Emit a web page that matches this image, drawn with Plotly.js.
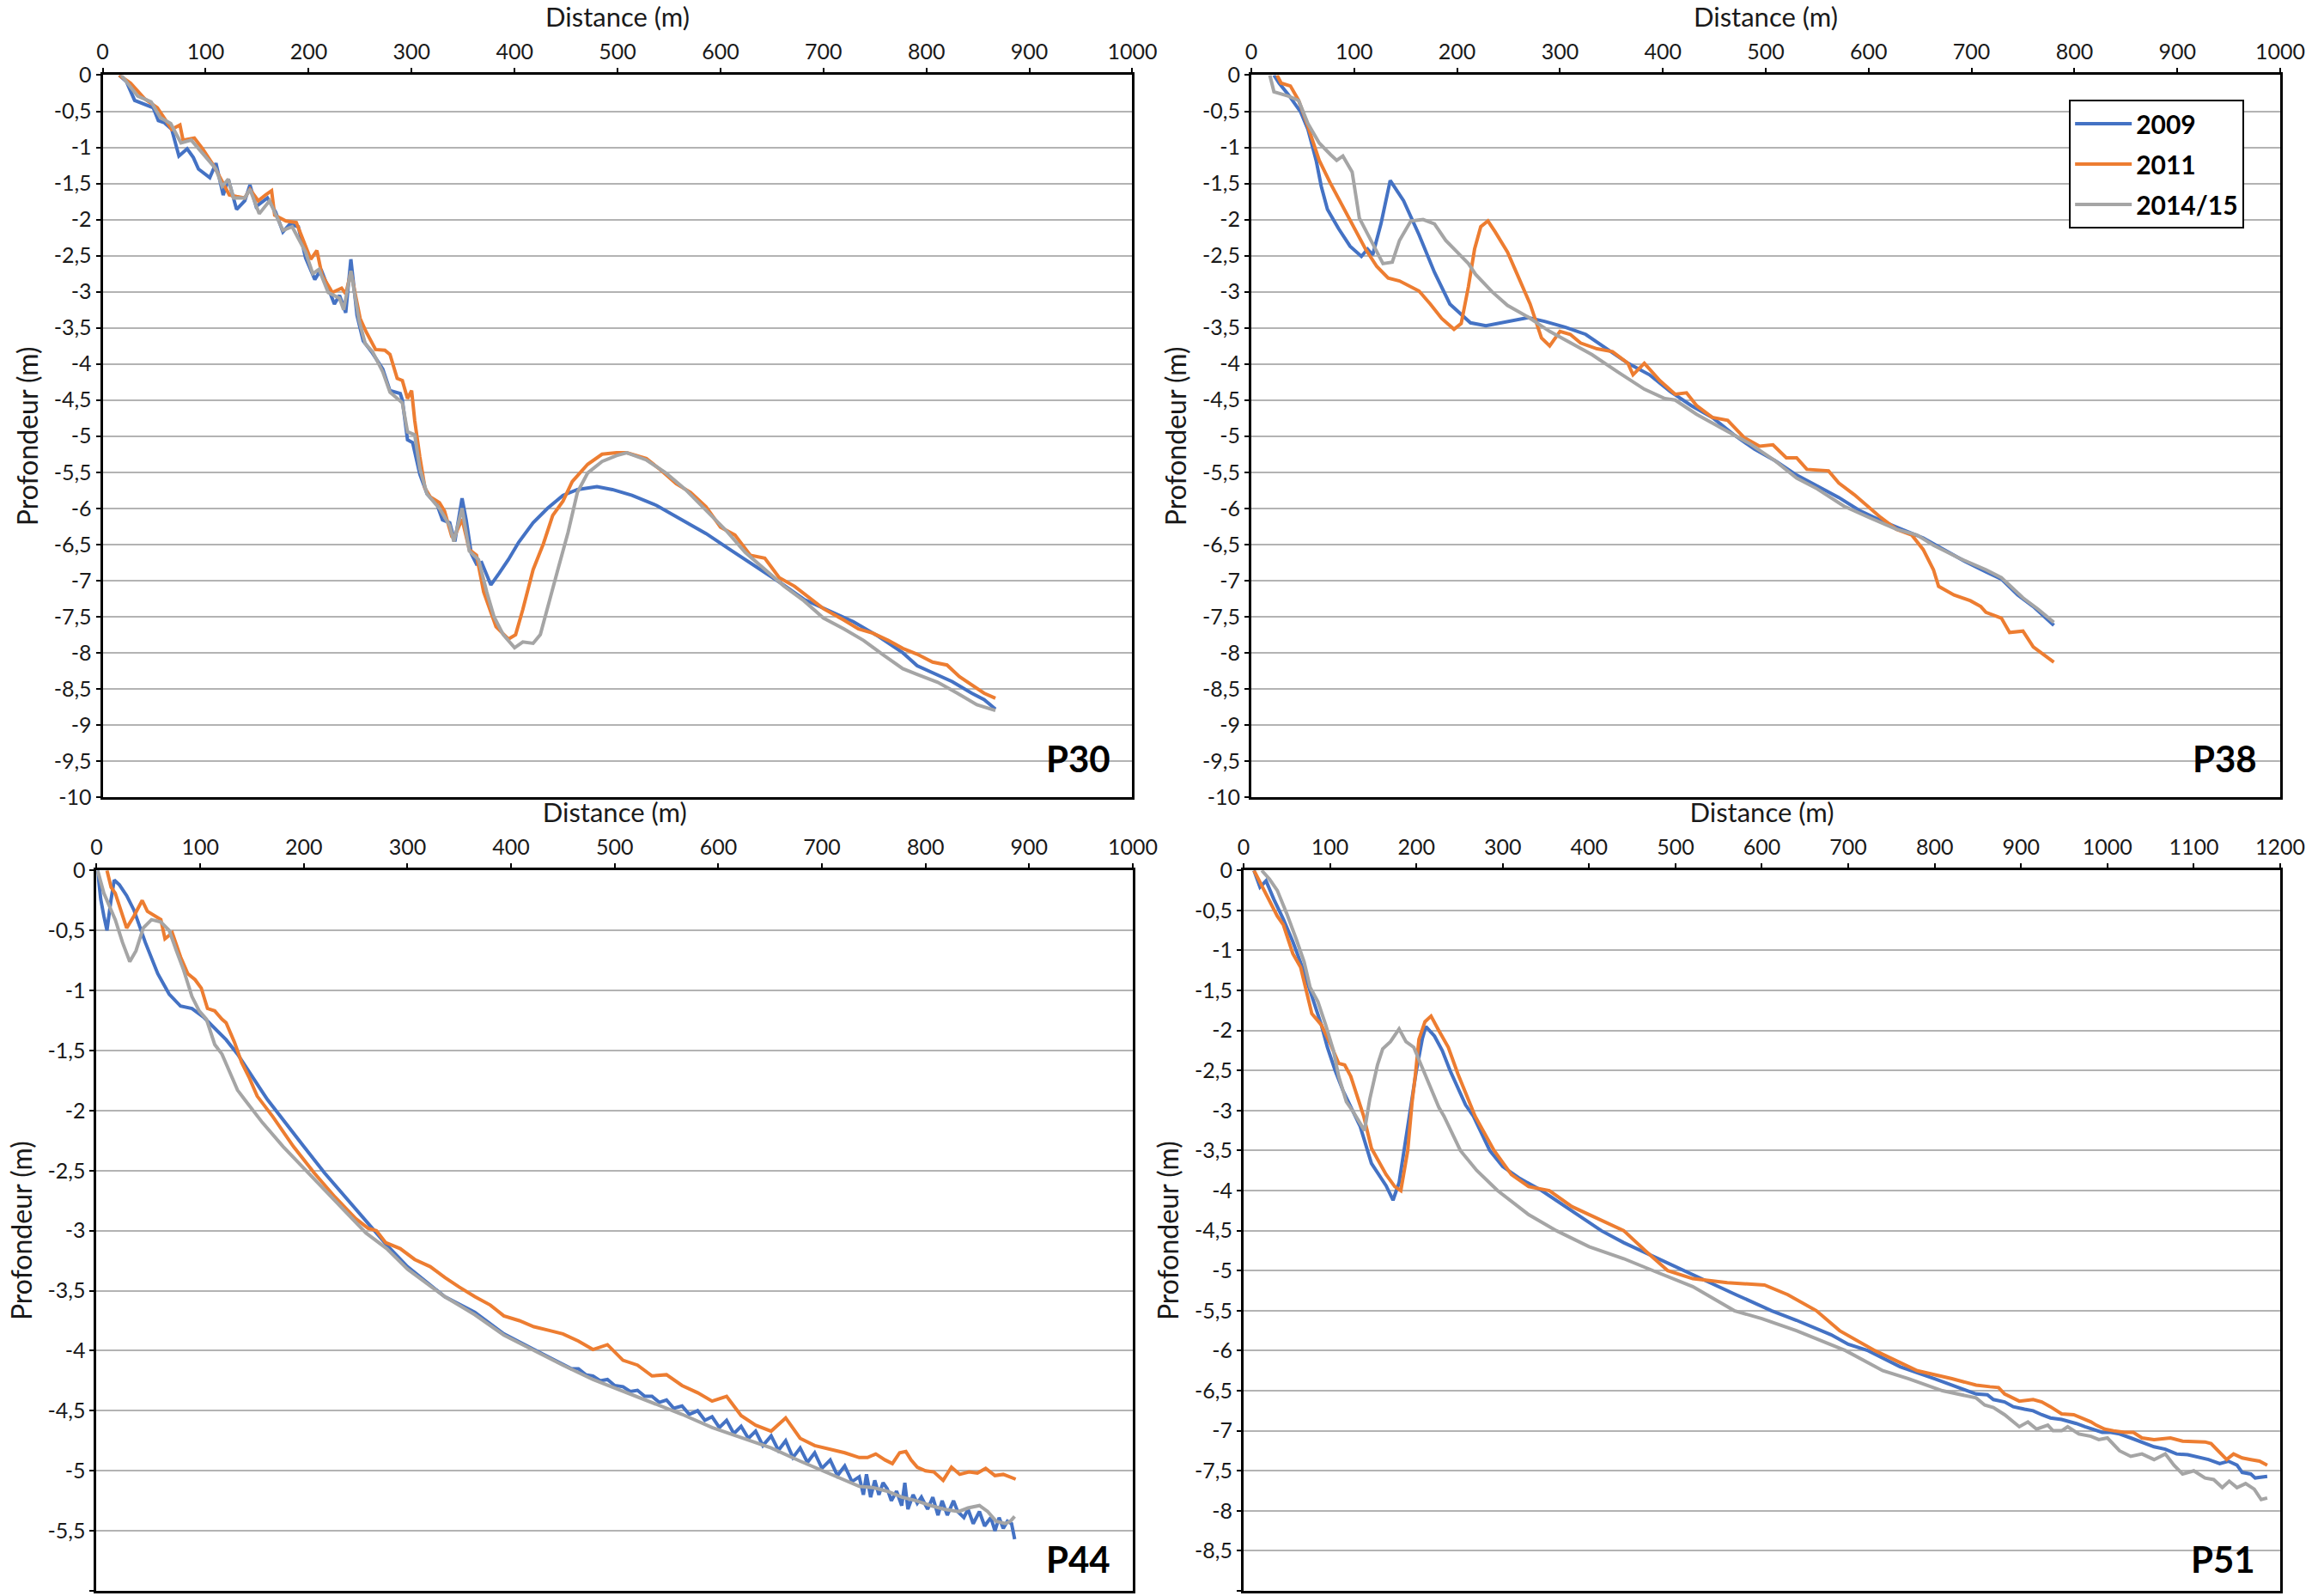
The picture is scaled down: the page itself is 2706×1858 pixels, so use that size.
<!DOCTYPE html>
<html><head><meta charset="utf-8">
<script src="https://cdn.plot.ly/plotly-3.0.1.min.js"></script>
<style>html,body{margin:0;padding:0;background:#fff;}#chart{width:2706px;height:1858px;}</style>
</head><body><div id="chart"></div>
<script>
// ---- series ----
const seriesNames = ['2009', '2011', '2014/15'];
const seriesColors = ['#4472C4', '#ED7D31', '#A5A5A5'];
const panelLabels = ['P30', 'P38', 'P44', 'P51'];

// P30
const p30_x09 = [16,23,31,40,49,54,60,67,74,82,88,93,100,104,110,117,122,130,138,143,149,160,168,175,182,190,197,206,212,219,225,230,236,241,247,253,262,272,279,289,291,296,301,308,315,325,330,337,342,349,353,358,363,368,377,385,394,404,418,432,447,461,480,495,514,538,562,586,609,633,657,681,705,729,753,777,791,806,825,844,856,867];
const p30_y09 = [0,-0.09,-0.35,-0.40,-0.45,-0.63,-0.66,-0.75,-1.12,-1.02,-1.14,-1.30,-1.38,-1.42,-1.22,-1.66,-1.44,-1.86,-1.74,-1.52,-1.82,-1.70,-1.90,-2.17,-2.06,-2.10,-2.53,-2.83,-2.69,-2.95,-3.17,-3.05,-3.29,-2.55,-3.33,-3.68,-3.85,-4.07,-4.37,-4.41,-4.50,-5.05,-5.09,-5.53,-5.80,-5.96,-6.16,-6.20,-6.46,-5.86,-6.16,-6.63,-6.77,-6.75,-7.06,-6.90,-6.71,-6.47,-6.20,-6.00,-5.82,-5.74,-5.70,-5.74,-5.82,-5.96,-6.16,-6.35,-6.57,-6.79,-7.02,-7.26,-7.42,-7.57,-7.77,-8.00,-8.18,-8.28,-8.40,-8.56,-8.65,-8.78];
const p30_x11 = [16,27,41,53,60,67,75,78,89,97,108,115,123,130,138,143,151,158,164,167,178,188,197,202,208,213,223,232,236,241,250,256,265,274,279,286,291,296,300,303,308,313,318,327,332,339,341,349,356,363,370,382,394,401,408,418,428,437,447,456,471,485,499,509,528,542,557,571,586,600,614,629,643,657,672,686,700,720,734,748,763,777,791,806,820,832,844,856,867];
const p30_y11 = [0,-0.11,-0.33,-0.45,-0.60,-0.75,-0.69,-0.90,-0.87,-1.02,-1.26,-1.45,-1.66,-1.68,-1.70,-1.58,-1.74,-1.66,-1.60,-1.94,-2.02,-2.04,-2.37,-2.55,-2.43,-2.77,-3.01,-2.95,-3.03,-2.73,-3.37,-3.56,-3.80,-3.81,-3.87,-4.20,-4.23,-4.48,-4.37,-4.78,-5.29,-5.72,-5.84,-5.92,-6.04,-6.39,-6.41,-6.15,-6.57,-6.65,-7.16,-7.64,-7.81,-7.75,-7.40,-6.85,-6.49,-6.10,-5.90,-5.63,-5.39,-5.25,-5.23,-5.23,-5.31,-5.47,-5.66,-5.78,-5.98,-6.26,-6.37,-6.65,-6.69,-6.96,-7.08,-7.24,-7.39,-7.55,-7.67,-7.73,-7.83,-7.94,-8.02,-8.13,-8.17,-8.33,-8.44,-8.56,-8.63];
const p30_x14 = [18,34,47,56,66,76,86,93,110,116,122,127,138,143,152,162,175,184,197,204,210,219,230,234,241,249,255,262,272,279,291,296,303,308,315,327,337,341,349,356,365,373,380,389,400,408,418,425,432,442,452,461,471,485,499,509,528,547,566,586,605,624,643,662,681,700,720,739,758,777,791,811,830,849,867];
const p30_y14 = [0,-0.29,-0.37,-0.59,-0.67,-0.94,-0.90,-1.02,-1.30,-1.54,-1.44,-1.70,-1.70,-1.58,-1.92,-1.74,-2.15,-2.10,-2.45,-2.75,-2.69,-3.01,-3.09,-3.25,-2.71,-3.40,-3.72,-3.83,-4.11,-4.39,-4.54,-4.94,-4.98,-5.45,-5.80,-6.00,-6.24,-6.46,-6.00,-6.59,-6.71,-7.16,-7.50,-7.75,-7.93,-7.85,-7.87,-7.75,-7.36,-6.85,-6.33,-5.78,-5.51,-5.35,-5.27,-5.23,-5.33,-5.51,-5.74,-6.02,-6.30,-6.61,-6.85,-7.08,-7.28,-7.52,-7.67,-7.83,-8.03,-8.22,-8.30,-8.41,-8.56,-8.72,-8.80];

// P38
const p38_x09 = [22,27,36,48,55,63,68,74,85,96,107,113,118,126,135,148,163,178,193,203,213,228,249,269,285,305,325,346,366,387,407,428,448,469,489,509,530,550,571,591,612,632,653,673,693,714,729,745,760,780];
const p38_y09 = [0,-0.11,-0.27,-0.51,-0.75,-1.18,-1.54,-1.86,-2.13,-2.37,-2.51,-2.41,-2.49,-2.06,-1.46,-1.74,-2.21,-2.73,-3.17,-3.30,-3.43,-3.47,-3.41,-3.36,-3.41,-3.49,-3.59,-3.79,-3.99,-4.15,-4.38,-4.58,-4.74,-4.98,-5.18,-5.34,-5.54,-5.69,-5.85,-6.03,-6.17,-6.29,-6.41,-6.57,-6.73,-6.88,-6.98,-7.20,-7.36,-7.62];
const p38_x11 = [25,29,38,46,55,66,77,89,100,111,122,133,144,163,174,185,197,204,211,217,223,230,237,249,260,271,282,290,300,310,320,336,351,366,371,382,397,412,423,433,448,463,479,494,507,520,530,540,561,571,586,599,612,627,642,653,663,668,683,699,709,714,729,737,750,760,768,780];
const p38_y11 = [0,-0.11,-0.15,-0.35,-0.71,-1.18,-1.50,-1.82,-2.10,-2.41,-2.65,-2.81,-2.85,-2.99,-3.17,-3.37,-3.52,-3.44,-2.93,-2.41,-2.10,-2.02,-2.17,-2.45,-2.81,-3.17,-3.64,-3.75,-3.55,-3.59,-3.71,-3.79,-3.83,-3.99,-4.15,-3.99,-4.23,-4.42,-4.40,-4.58,-4.74,-4.78,-5.02,-5.14,-5.12,-5.30,-5.30,-5.46,-5.48,-5.65,-5.81,-5.97,-6.13,-6.29,-6.37,-6.57,-6.85,-7.08,-7.20,-7.28,-7.36,-7.44,-7.52,-7.72,-7.70,-7.92,-8.00,-8.13];
const p38_x14 = [18,22,36,46,55,66,77,83,89,98,105,115,122,128,137,144,155,167,178,189,200,211,218,234,249,269,290,310,331,356,382,402,412,433,458,484,509,530,550,576,601,627,647,663,688,714,729,750,765,780];
const p38_y14 = [0,-0.23,-0.29,-0.35,-0.67,-0.94,-1.10,-1.18,-1.12,-1.34,-1.98,-2.25,-2.45,-2.61,-2.59,-2.29,-2.02,-2.00,-2.06,-2.29,-2.45,-2.61,-2.76,-3.00,-3.19,-3.35,-3.55,-3.71,-3.87,-4.11,-4.35,-4.48,-4.50,-4.70,-4.90,-5.10,-5.34,-5.58,-5.73,-5.97,-6.13,-6.29,-6.37,-6.51,-6.69,-6.85,-6.96,-7.24,-7.40,-7.58];

// P44
const p44_x09 = [1,4,7,10,14,17,22,29,36,47,59,70,81,92,103,114,125,136,147,158,165,180,200,220,240,260,280,300,336,365,393,422,450,458,465,472,479,486,493,500,508,515,522,529,536,543,550,557,565,572,580,587,594,601,608,615,622,629,636,643,651,658,665,672,679,686,693,700,708,715,722,729,736,740,743,747,751,755,759,763,767,772,777,780,783,788,792,796,802,807,812,816,821,827,831,837,841,846,852,857,863,867,871,875,879,883,886];
const p44_y09 = [0,-0.24,-0.38,-0.50,-0.24,-0.08,-0.12,-0.21,-0.33,-0.60,-0.86,-1.03,-1.13,-1.15,-1.22,-1.32,-1.41,-1.53,-1.68,-1.82,-1.91,-2.08,-2.30,-2.52,-2.72,-2.92,-3.12,-3.30,-3.55,-3.68,-3.86,-3.99,-4.11,-4.15,-4.15,-4.20,-4.21,-4.25,-4.24,-4.29,-4.30,-4.34,-4.33,-4.38,-4.38,-4.43,-4.41,-4.48,-4.46,-4.53,-4.50,-4.58,-4.55,-4.64,-4.58,-4.69,-4.63,-4.73,-4.67,-4.79,-4.71,-4.83,-4.75,-4.89,-4.81,-4.93,-4.85,-4.98,-4.91,-5.04,-4.96,-5.09,-5.05,-5.20,-5.03,-5.22,-5.08,-5.20,-5.10,-5.15,-5.25,-5.17,-5.29,-5.10,-5.32,-5.20,-5.27,-5.22,-5.32,-5.22,-5.37,-5.25,-5.37,-5.25,-5.34,-5.39,-5.32,-5.44,-5.34,-5.46,-5.39,-5.50,-5.39,-5.48,-5.42,-5.44,-5.57];
const p44_x11 = [10,14,18,22,29,36,44,49,55,62,66,73,81,88,95,101,107,114,121,125,133,140,147,155,170,190,210,230,250,262,270,279,293,307,322,336,350,365,380,393,408,422,436,450,465,479,493,508,522,536,550,565,580,594,608,622,636,651,665,679,693,708,722,736,744,752,761,768,775,781,786,792,800,808,817,825,833,842,850,858,867,875,883,887];
const p44_y11 = [0,-0.14,-0.19,-0.29,-0.48,-0.38,-0.25,-0.34,-0.37,-0.41,-0.57,-0.52,-0.72,-0.86,-0.91,-0.98,-1.15,-1.17,-1.24,-1.27,-1.43,-1.60,-1.72,-1.88,-2.05,-2.30,-2.52,-2.72,-2.90,-2.98,-3.00,-3.10,-3.15,-3.24,-3.30,-3.39,-3.47,-3.55,-3.62,-3.71,-3.75,-3.80,-3.83,-3.86,-3.92,-3.99,-3.95,-4.08,-4.12,-4.21,-4.20,-4.29,-4.35,-4.42,-4.38,-4.54,-4.62,-4.67,-4.56,-4.73,-4.79,-4.82,-4.85,-4.89,-4.89,-4.86,-4.91,-4.94,-4.85,-4.84,-4.91,-4.97,-5.00,-5.01,-5.08,-4.97,-5.03,-5.01,-5.02,-4.98,-5.04,-5.03,-5.06,-5.07];
const p44_x14 = [1,7,18,25,32,38,45,53,62,70,77,84,92,99,106,114,121,129,136,143,160,180,200,220,240,260,280,300,336,365,393,422,450,479,508,536,565,594,622,651,679,708,736,749,763,777,791,805,818,832,841,852,860,868,877,882,886];
const p44_y14 = [0,-0.19,-0.41,-0.60,-0.76,-0.67,-0.48,-0.41,-0.43,-0.50,-0.67,-0.83,-1.05,-1.17,-1.24,-1.45,-1.53,-1.69,-1.83,-1.91,-2.10,-2.30,-2.48,-2.66,-2.85,-3.02,-3.15,-3.32,-3.55,-3.70,-3.87,-4.00,-4.12,-4.24,-4.34,-4.43,-4.53,-4.64,-4.72,-4.81,-4.92,-5.03,-5.13,-5.14,-5.17,-5.22,-5.25,-5.29,-5.32,-5.34,-5.31,-5.29,-5.34,-5.42,-5.44,-5.42,-5.38];

// P51
const p51_x09 = [12,19,26,35,46,57,68,79,90,97,106,115,124,135,148,165,173,180,190,200,207,211,221,230,239,248,257,266,285,300,320,345,380,414,440,470,490,508,540,570,611,640,680,700,723,760,800,848,861,868,881,891,904,914,924,934,947,954,964,974,984,994,1004,1014,1027,1040,1054,1067,1080,1093,1107,1117,1130,1140,1150,1156,1166,1171,1185];
const p51_y09 = [0,-0.21,-0.13,-0.36,-0.61,-0.89,-1.21,-1.57,-1.93,-2.21,-2.50,-2.75,-2.96,-3.20,-3.66,-3.94,-4.12,-3.90,-3.20,-2.50,-2.10,-1.95,-2.07,-2.25,-2.50,-2.71,-2.93,-3.07,-3.50,-3.70,-3.85,-4.00,-4.25,-4.50,-4.65,-4.80,-4.90,-5.00,-5.15,-5.30,-5.50,-5.62,-5.80,-5.92,-6.00,-6.20,-6.35,-6.54,-6.55,-6.61,-6.64,-6.70,-6.73,-6.75,-6.80,-6.84,-6.86,-6.88,-6.91,-6.95,-6.98,-7.02,-7.02,-7.04,-7.09,-7.14,-7.20,-7.23,-7.29,-7.30,-7.34,-7.36,-7.41,-7.38,-7.43,-7.52,-7.54,-7.59,-7.57];
const p51_x11 = [12,26,39,46,57,66,72,79,90,101,110,117,124,132,139,148,165,175,182,190,195,199,203,210,217,226,237,248,257,268,290,310,330,354,380,400,440,465,491,520,560,603,630,663,690,731,780,820,848,864,874,881,898,914,924,934,947,961,971,981,987,997,1007,1020,1030,1040,1054,1073,1087,1100,1113,1120,1130,1138,1146,1156,1166,1176,1185];
const p51_y11 = [0,-0.29,-0.57,-0.68,-1.04,-1.21,-1.50,-1.79,-1.93,-2.18,-2.41,-2.43,-2.57,-2.82,-3.07,-3.47,-3.80,-3.95,-4.00,-3.50,-2.90,-2.54,-2.11,-1.89,-1.82,-2.00,-2.21,-2.54,-2.79,-3.07,-3.50,-3.80,-3.95,-4.00,-4.20,-4.30,-4.50,-4.75,-5.00,-5.10,-5.15,-5.18,-5.30,-5.50,-5.75,-6.00,-6.25,-6.35,-6.43,-6.45,-6.46,-6.54,-6.63,-6.61,-6.64,-6.70,-6.79,-6.80,-6.84,-6.89,-6.93,-6.98,-7.00,-7.02,-7.02,-7.09,-7.11,-7.09,-7.13,-7.14,-7.14,-7.16,-7.27,-7.36,-7.29,-7.34,-7.36,-7.38,-7.43];
const p51_x14 = [21,30,39,50,61,70,77,86,95,104,110,119,126,132,140,146,155,161,170,180,188,197,208,217,226,232,251,270,294,330,362,400,440,474,520,568,600,640,697,740,770,809,848,858,868,881,898,908,918,931,937,947,954,967,981,990,1000,1014,1027,1040,1054,1067,1077,1087,1100,1113,1123,1133,1141,1150,1160,1170,1178,1185];
const p51_y14 = [0,-0.11,-0.25,-0.54,-0.86,-1.14,-1.46,-1.64,-1.93,-2.25,-2.57,-2.89,-3.00,-3.10,-3.25,-2.86,-2.43,-2.23,-2.14,-1.98,-2.14,-2.21,-2.50,-2.71,-2.96,-3.07,-3.50,-3.75,-4.00,-4.30,-4.50,-4.70,-4.85,-5.00,-5.20,-5.50,-5.60,-5.75,-6.00,-6.25,-6.35,-6.50,-6.59,-6.68,-6.71,-6.80,-6.95,-6.89,-6.98,-6.93,-7.00,-7.00,-6.95,-7.04,-7.07,-7.11,-7.09,-7.25,-7.32,-7.29,-7.36,-7.29,-7.43,-7.54,-7.50,-7.59,-7.61,-7.71,-7.63,-7.71,-7.66,-7.73,-7.86,-7.84];

// ---- tick labels ----
const yTickVals10 = [0,-0.5,-1,-1.5,-2,-2.5,-3,-3.5,-4,-4.5,-5,-5.5,-6,-6.5,-7,-7.5,-8,-8.5,-9,-9.5,-10];
const yTickText10 = ['0','-0,5','-1','-1,5','-2','-2,5','-3','-3,5','-4','-4,5','-5','-5,5','-6','-6,5','-7','-7,5','-8','-8,5','-9','-9,5','-10'];
const yTickVals6 = [0,-0.5,-1,-1.5,-2,-2.5,-3,-3.5,-4,-4.5,-5,-5.5,-6];
const yTickText6 = ['0','-0,5','-1','-1,5','-2','-2,5','-3','-3,5','-4','-4,5','-5','-5,5','-6'];
const yTickVals9 = [0,-0.5,-1,-1.5,-2,-2.5,-3,-3.5,-4,-4.5,-5,-5.5,-6,-6.5,-7,-7.5,-8,-8.5,-9];
const yTickText9 = ['0','-0,5','-1','-1,5','-2','-2,5','-3','-3,5','-4','-4,5','-5','-5,5','-6','-6,5','-7','-7,5','-8','-8,5','-9'];
const xTitle = 'Distance (m)';
const yTitle = 'Profondeur (m)';

// ---- build ----
const FONT = 'Lato, "Open Sans", sans-serif';
const panels = [
  {xs:[p30_x09,p30_x11,p30_x14], ys:[p30_y09,p30_y11,p30_y14], xa:'x', ya:'y'},
  {xs:[p38_x09,p38_x11,p38_x14], ys:[p38_y09,p38_y11,p38_y14], xa:'x2', ya:'y2'},
  {xs:[p44_x09,p44_x11,p44_x14], ys:[p44_y09,p44_y11,p44_y14], xa:'x3', ya:'y3'},
  {xs:[p51_x09,p51_x11,p51_x14], ys:[p51_y09,p51_y11,p51_y14], xa:'x4', ya:'y4'}
];
const traces = [];
panels.forEach((p, pi) => {
  for (let s = 0; s < 3; s++) {
    traces.push({
      type:'scatter', mode:'lines', x:p.xs[s], y:p.ys[s], xaxis:p.xa, yaxis:p.ya,
      name:seriesNames[s], legendgroup:'g'+s, showlegend: pi === 1,
      line:{color:seriesColors[s], width:4}, hoverinfo:'skip'
    });
  }
});

function xAxis(dom, anchor, maxv) {
  return {
    domain:dom, anchor:anchor, side:'top', range:[0,maxv], dtick:100, tick0:0,
    showline:true, linecolor:'#000', linewidth:3, mirror:true,
    ticks:'outside', ticklen:5, tickwidth:2, tickcolor:'#000',
    showgrid:false, zeroline:false, automargin:false,
    tickfont:{family:FONT, size:25, color:'#1a1a1a'},
    title:{text:xTitle, font:{family:FONT, size:31, color:'#1a1a1a'}, standoff:4}
  };
}
function yAxis(dom, anchor, minv, vals, txt) {
  return {
    domain:dom, anchor:anchor, range:[minv,0], tickmode:'array', tickvals:vals, ticktext:txt,
    showline:true, linecolor:'#000', linewidth:3, mirror:true,
    ticks:'outside', ticklen:5, tickwidth:2, tickcolor:'#000',
    showgrid:true, gridcolor:'#b3b3b3', gridwidth:2, zeroline:false, automargin:false,
    tickfont:{family:FONT, size:25, color:'#1a1a1a'},
    title:{text:yTitle, font:{family:FONT, size:32, color:'#1a1a1a'}, standoff:9}
  };
}
const topY = [0.50054, 0.95291], botY = [0.00323, 0.45463];
const layout = {
  width:2706, height:1858, margin:{l:0,r:0,t:0,b:0},
  paper_bgcolor:'#fff', plot_bgcolor:'#fff',
  xaxis: xAxis([0.04420,0.48725],'y',1000),
  yaxis: yAxis(topY,'x',-10,yTickVals10,yTickText10),
  xaxis2: xAxis([0.53843,0.98115],'y2',1000),
  yaxis2: yAxis(topY,'x2',-10,yTickVals10,yTickText10),
  xaxis3: xAxis([0.04157,0.48743],'y3',1000),
  yaxis3: yAxis(botY,'x3',-6,yTickVals6,yTickText6),
  xaxis4: xAxis([0.53511,0.98115],'y4',1200),
  yaxis4: yAxis(botY,'x4',-9,yTickVals9,yTickText9),
  showlegend:true,
  legend:{x:0.8903, y:0.93757, xanchor:'left', yanchor:'top', bgcolor:'#fff',
    bordercolor:'#000', borderwidth:2, itemwidth:66, traceorder:'grouped', tracegroupgap:5,
    font:{family:FONT, size:30, color:'#000', weight:700}},
  annotations: [
    {text:panelLabels[0], xref:'x domain', yref:'y domain', x:0.98, y:0.0535, xanchor:'right', yanchor:'middle', showarrow:false, font:{family:FONT, size:42, color:'#000', weight:700}},
    {text:panelLabels[1], xref:'x2 domain', yref:'y2 domain', x:0.979, y:0.0535, xanchor:'right', yanchor:'middle', showarrow:false, font:{family:FONT, size:42, color:'#000', weight:700}},
    {text:panelLabels[2], xref:'x3 domain', yref:'y3 domain', x:0.980, y:0.044, xanchor:'right', yanchor:'middle', showarrow:false, font:{family:FONT, size:42, color:'#000', weight:700}},
    {text:panelLabels[3], xref:'x4 domain', yref:'y4 domain', x:0.9776, y:0.044, xanchor:'right', yanchor:'middle', showarrow:false, font:{family:FONT, size:42, color:'#000', weight:700}}
  ]
};
Plotly.newPlot('chart', traces, layout, {displayModeBar:false, staticPlot:true});
</script>
</body></html>
